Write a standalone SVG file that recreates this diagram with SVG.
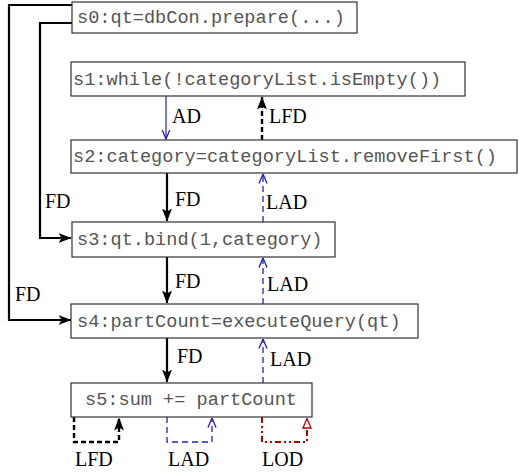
<svg xmlns="http://www.w3.org/2000/svg" width="519" height="474" viewBox="0 0 519 474">
<style>
.box{fill:#fff;stroke:#333;stroke-width:1.2}
.code{font-family:"Liberation Mono","Courier New",monospace;font-size:18.6px;fill:#555}
.lbl{font-family:"Liberation Serif","Times New Roman",serif;font-size:20px;fill:#000}
.fd{fill:none;stroke:#000;stroke-width:2.2}
.lfd{fill:none;stroke:#000;stroke-width:2.4;stroke-dasharray:5 3}
.ad{fill:none;stroke:#2020c0;stroke-width:1.2}
.lad{fill:none;stroke:#2020c0;stroke-width:1.3;stroke-dasharray:6 4}
.lod{fill:none;stroke:#b00000;stroke-width:2;stroke-dasharray:6 3 2 3 2 3}
</style>
<defs>
<marker id="ah" markerUnits="userSpaceOnUse" viewBox="0 0 13 10" refX="12.5" refY="5" markerWidth="13" markerHeight="10" orient="auto">
<path d="M0,0 L13,5 L0,10 L3,5 z" fill="#000"/>
</marker>
<marker id="av" markerUnits="userSpaceOnUse" viewBox="0 0 10 10" refX="9.5" refY="5" markerWidth="10" markerHeight="10" orient="auto">
<path d="M0,1 L9.5,5 L0,9" fill="none" stroke="#2020c0" stroke-width="1.3"/>
</marker>
<marker id="at" markerUnits="userSpaceOnUse" viewBox="0 0 11 10" refX="10.5" refY="5" markerWidth="11" markerHeight="10" orient="auto">
<path d="M0.5,1 L10,5 L0.5,9 z" fill="#fff" stroke="#b00000" stroke-width="1.3"/>
</marker>
</defs>

<g id="connectors">
<path class="fd" d="M72,5 H9 V320 H71" marker-end="url(#ah)"/>
<path class="fd" d="M72,23 H40 V238 H71" marker-end="url(#ah)"/>
<text class="lbl" x="45" y="208">FD</text>
<text class="lbl" x="15" y="301">FD</text>

<path class="ad" d="M166,96 V139" marker-end="url(#av)"/>
<text class="lbl" x="172" y="123">AD</text>
<path class="lfd" d="M262,140 V97" marker-end="url(#ah)"/>
<text class="lbl" x="269" y="123">LFD</text>

<path class="fd" d="M167,173 V221" marker-end="url(#ah)"/>
<text class="lbl" x="175" y="206">FD</text>
<path class="lad" d="M263,222 V174" marker-end="url(#av)"/>
<text class="lbl" x="266" y="209">LAD</text>

<path class="fd" d="M167,257 V303" marker-end="url(#ah)"/>
<text class="lbl" x="175" y="288">FD</text>
<path class="lad" d="M263,304 V258" marker-end="url(#av)"/>
<text class="lbl" x="267" y="291">LAD</text>

<path class="fd" d="M167,338 V382" marker-end="url(#ah)"/>
<text class="lbl" x="177" y="363">FD</text>
<path class="lad" d="M263,383 V339" marker-end="url(#av)"/>
<text class="lbl" x="270" y="366">LAD</text>

<path class="lfd" d="M74,417 V442 H119 V418" marker-end="url(#ah)"/>
<text class="lbl" x="75" y="466">LFD</text>
<path class="lad" d="M167,417 V442 H212 V418" marker-end="url(#av)"/>
<text class="lbl" x="168" y="466">LAD</text>
<path class="lod" d="M262,417 V442 H307 V418" marker-end="url(#at)"/>
<text class="lbl" x="262" y="466">LOD</text>
</g>

<g id="s0"><rect class="box" x="72" y="2" width="285" height="31"/><text class="code" x="77" y="23">s0:qt=dbCon.prepare(...)</text></g>
<g id="s1"><rect class="box" x="71" y="62" width="394" height="34"/><text class="code" x="73" y="85">s1:while(!categoryList.isEmpty())</text></g>
<g id="s2"><rect class="box" x="71" y="140" width="446" height="33"/><text class="code" x="73" y="162">s2:category=categoryList.removeFirst()</text></g>
<g id="s3"><rect class="box" x="72" y="222" width="263" height="35"/><text class="code" x="77" y="245">s3:qt.bind(1,category)</text></g>
<g id="s4"><rect class="box" x="71" y="304" width="347" height="34"/><text class="code" x="77" y="327">s4:partCount=executeQuery(qt)</text></g>
<g id="s5"><rect class="box" x="71" y="383" width="241" height="34"/><text class="code" x="85" y="405">s5:sum += partCount</text></g>
</svg>
